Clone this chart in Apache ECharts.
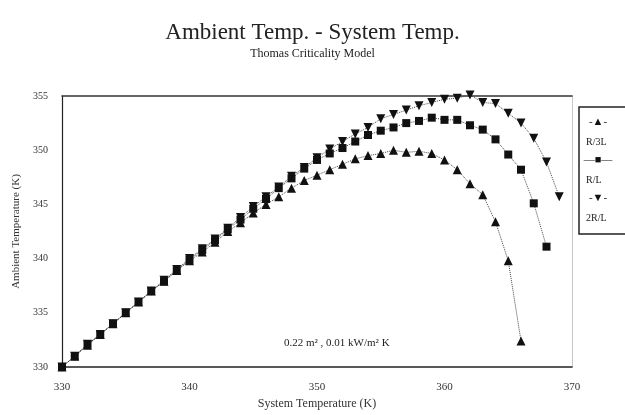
<!DOCTYPE html>
<html lang="en">
<head>
    <meta charset="UTF-8">
    <title>Ambient Temp. - System Temp.</title>
    <style type="text/css">
        * {
            margin: 0;
            padding: 0;
        }

        html, body {
            width: 100%;
            height: 100%;
            background: #fff;
        }

        #chart-panel {
            width: 625px;
            height: 415px;
        }
    </style>
</head>
<body>

<div id="chart-panel"></div>

<script src="https://cdn.jsdelivr.net/npm/echarts@6/dist/echarts.min.js"></script>
<script>

    var myChart = echarts.init(document.getElementById('chart-panel'));
    let serif = "'Liberation Serif', 'DejaVu Serif', serif";

    // system temperature (K), one point per kelvin
    let systemTemp = [330, 331, 332, 333, 334, 335, 336, 337, 338, 339,
        340, 341, 342, 343, 344, 345, 346, 347, 348, 349,
        350, 351, 352, 353, 354, 355, 356, 357, 358, 359,
        360, 361, 362, 363, 364, 365, 366, 367, 368, 369];

    // ambient temperature (K) for each geometry
    let ambientR3L = [330, 331, 332, 333, 334, 335, 336, 337, 337.9, 338.9,
        339.8, 340.6, 341.5, 342.5, 343.3, 344.2, 345.0, 345.7, 346.5, 347.2,
        347.7, 348.2, 348.7, 349.2, 349.5, 349.7, 350.0, 349.8, 349.9, 349.7,
        349.1, 348.2, 346.9, 345.9, 343.4, 339.8, 332.4];
    let ambientRL = [330, 331, 332.1, 333, 334, 335, 336, 337, 337.9, 338.9,
        339.9, 340.8, 341.7, 342.7, 343.6, 344.6, 345.5, 346.5, 347.4, 348.3,
        349.1, 349.7, 350.2, 350.8, 351.4, 351.8, 352.1, 352.5, 352.7, 353.0,
        352.8, 352.8, 352.3, 351.9, 351.0, 349.6, 348.2, 345.1, 341.1];
    let ambient2RL = [330, 331, 332.1, 333, 334, 335, 336, 337, 338, 339,
        340, 340.9, 341.8, 342.8, 343.8, 344.8, 345.7, 346.6, 347.6, 348.4,
        349.3, 350.1, 350.8, 351.5, 352.1, 352.9, 353.3, 353.7, 354.1, 354.4,
        354.7, 354.8, 355.1, 354.4, 354.3, 353.4, 352.5, 351.1, 348.9, 345.7];

    let xTicks = [330, 340, 350, 360, 370];
    let yTicks = [330, 335, 340, 345, 350, 355];
    let seriesNames = ['R/3L', 'R/L', '2R/L'];

    const pairs = (ys) => ys.map((y, i) => [systemTemp[i], y]);

    const lineSeries = (name, ys, symbol, size, rotate) => ({
        name: name,
        type: 'line',
        data: pairs(ys),
        symbol: symbol,
        symbolSize: size,
        symbolRotate: rotate || 0,
        showAllSymbol: true,
        clip: false,
        itemStyle: {color: '#111'},
        lineStyle: {color: '#444', width: 1, type: 'dotted'},
        z: 3
    });

    // legend drawn by hand: marker glyph above each name, as in the original
    let legendGlyphs = ['-\u25B2-', '\u2014\u25A0\u2014', '-\u25BC-'];
    let legendItems = [];
    seriesNames.forEach((name, i) => {
        legendItems.push({
            type: 'text',
            style: {x: 598, y: 122 + i * 38, text: legendGlyphs[i], align: 'center', verticalAlign: 'middle',
                font: '11px ' + serif, fill: '#111'}
        });
        legendItems.push({
            type: 'text',
            style: {x: 586, y: 142 + i * 38, text: name, align: 'left', verticalAlign: 'middle',
                font: '10px ' + serif, fill: '#222'}
        });
    });

    var option = {
        backgroundColor: '#fff',
        animation: false,
        title: {
            text: 'Ambient Temp. - System Temp.',
            subtext: 'Thomas Criticality Model',
            left: 'center',
            top: 16,
            itemGap: 4,
            textStyle: {fontFamily: serif, fontSize: 23, fontWeight: 'normal', color: '#222'},
            subtextStyle: {fontFamily: serif, fontSize: 12, color: '#222'}
        },
        grid: {left: 62, right: 53, top: 96, bottom: 46},
        xAxis: [{
            type: 'value',
            min: xTicks[0],
            max: xTicks[xTicks.length - 1],
            interval: 10,
            name: 'System Temperature (K)',
            nameLocation: 'middle',
            nameGap: 31,
            nameTextStyle: {fontFamily: serif, fontSize: 12, color: '#333'},
            axisLine: {lineStyle: {color: '#222', width: 1.5}},
            axisTick: {show: false},
            splitLine: {show: false},
            axisLabel: {fontFamily: serif, fontSize: 11, color: '#333', margin: 15}
        }, {
            type: 'value',
            position: 'top',
            min: xTicks[0],
            max: xTicks[xTicks.length - 1],
            axisLine: {show: true, lineStyle: {color: '#333', width: 1.5}},
            axisTick: {show: false},
            axisLabel: {show: false},
            splitLine: {show: false}
        }],
        yAxis: [{
            type: 'value',
            min: yTicks[0],
            max: yTicks[yTicks.length - 1],
            interval: 5,
            name: 'Ambient Temperature (K)',
            nameLocation: 'middle',
            nameGap: 38,
            nameTextStyle: {fontFamily: serif, fontSize: 11, color: '#333'},
            axisLine: {show: true, lineStyle: {color: '#222', width: 1.2}},
            axisTick: {show: false},
            splitLine: {show: false},
            axisLabel: {fontFamily: serif, fontSize: 10, color: '#333', margin: 14}
        }, {
            type: 'value',
            position: 'right',
            min: yTicks[0],
            max: yTicks[yTicks.length - 1],
            axisLine: {show: true, lineStyle: {color: '#bbb', width: 1, type: 'dotted'}},
            axisTick: {show: false},
            axisLabel: {show: false},
            splitLine: {show: false}
        }],
        series: [
            lineSeries(seriesNames[0], ambientR3L, 'triangle', 9),
            lineSeries(seriesNames[1], ambientRL, 'rect', 8),
            lineSeries(seriesNames[2], ambient2RL, 'triangle', 9, 180)
        ],
        graphic: [{
            type: 'rect',
            shape: {x: 579, y: 107, width: 60, height: 127},
            style: {fill: 'none', stroke: '#222', lineWidth: 1.5}
        }, {
            type: 'text',
            left: 284,
            top: 338,
            style: {text: '0.22 m\u00B2 , 0.01 kW/m\u00B2 K', font: '11px ' + serif, fill: '#222'}
        }].concat(legendItems)
    };
    myChart.setOption(option);
    window.onresize = () => {
        myChart.resize();
    }
</script>
</body>
</html>
